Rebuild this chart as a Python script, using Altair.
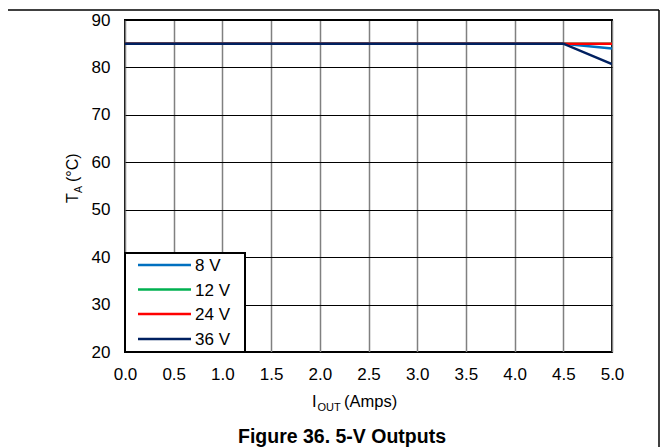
import altair as alt
import pandas as pd

# ---- data ----
iout = [0.0, 4.5, 5.0]
series = ["8 V", "12 V", "24 V", "36 V"]
ta_8v = [85, 85, 84.0]
ta_12v = [85, 85, 85]
ta_24v = [85, 85, 85]
ta_36v = [85, 85, 80.7]
colors = ["#0070C0", "#00B050", "#FF0000", "#002060"]
x_ticks = [0.0, 0.5, 1.0, 1.5, 2.0, 2.5, 3.0, 3.5, 4.0, 4.5, 5.0]
y_ticks = [20, 30, 40, 50, 60, 70, 80, 90]

FONT = "Liberation Sans"
W, H = 487, 332

values = [ta_8v, ta_12v, ta_24v, ta_36v]
color_scale = alt.Scale(domain=series, range=colors)

x_enc = alt.X(
    "iout:Q",
    scale=alt.Scale(domain=[0, 5], nice=False),
    axis=alt.Axis(
        values=x_ticks, format=".1f", title=None, tickSize=0, domain=False,
        labelFontSize=17, labelFont=FONT, labelColor="black", labelPadding=14,
        labelFlush=False, labelOverlap=False,
        grid=True, gridColor="#808080", gridWidth=1.5,
    ),
)
y_enc = alt.Y(
    "ta:Q",
    scale=alt.Scale(domain=[20, 90], nice=False),
    axis=alt.Axis(
        values=y_ticks, format="d", title=None, tickSize=0, domain=False,
        labelFontSize=17, labelFont=FONT, labelColor="black", labelPadding=15,
        labelFlush=False, labelOverlap=False,
        grid=True, gridColor="black", gridWidth=1,
    ),
)

layers = []
for name, vals in zip(series, values):
    df = pd.DataFrame({"iout": iout, "ta": vals, "series": name})
    layers.append(
        alt.Chart(df).mark_line(strokeWidth=2.5, clip=True).encode(
            x=x_enc, y=y_enc,
            color=alt.Color("series:N", scale=color_scale, legend=None),
        )
    )

# ---- legend box ----
legend_box = alt.Chart(pd.DataFrame({"a": [0]})).mark_rect(
    fill="white", stroke="black", strokeWidth=2
).encode(x=alt.value(0), x2=alt.value(120), y=alt.value(233), y2=alt.value(332))
layers.append(legend_box)

row_y = [245, 269.5, 294, 319]
for name, ry in zip(series, row_y):
    ldf = pd.DataFrame({"series": [name]})
    layers.append(
        alt.Chart(ldf).mark_rule(strokeWidth=2.5).encode(
            x=alt.value(13), x2=alt.value(66), y=alt.value(ry),
            color=alt.Color("series:N", scale=color_scale, legend=None),
        )
    )
    layers.append(
        alt.Chart(ldf).mark_text(
            align="left", baseline="middle", fontSize=17, font=FONT, color="black"
        ).encode(x=alt.value(70), y=alt.value(ry + 1), text="series:N")
    )

def txt(s, x, y, size=16, angle=0, bold=False, align="left"):
    return alt.Chart(pd.DataFrame({"t": [s]})).mark_text(
        align=align, baseline="alphabetic", fontSize=size, font=FONT,
        color="black", angle=angle, fontWeight="bold" if bold else "normal",
    ).encode(x=alt.value(x), y=alt.value(y), text="t:N")

# x-axis title: I_OUT (Amps)
layers.append(txt("I", 187, 387, size=16.5))
layers.append(txt("OUT", 192.5, 391, size=11))
layers.append(txt("(Amps)", 219, 387, size=16.5))
# y-axis title: T_A (°C), rotated
layers.append(txt("T", -47, 183, size=16, angle=270))
layers.append(txt("A", -43, 173, size=10.5, angle=270))
layers.append(txt("(°C)", -47, 162, size=16, angle=270))
# figure caption
layers.append(txt("Figure 36. 5-V Outputs", 217, 423, size=19.5, bold=True, align="center"))

# page frame lines (top and right)
frame_df = pd.DataFrame({"a": [0]})
layers.append(alt.Chart(frame_df).mark_rule(color="black", strokeWidth=1.5).encode(
    x=alt.value(-117), x2=alt.value(534), y=alt.value(-10)))
layers.append(alt.Chart(frame_df).mark_rule(color="black", strokeWidth=1.5).encode(
    x=alt.value(534), y=alt.value(-10), y2=alt.value(430)))

chart = alt.layer(*layers).properties(
    width=W, height=H,
    autosize=alt.AutoSizeParams(type="none"),
    padding={"left": 117, "top": 12, "right": 48, "bottom": 97},
    background="white",
).configure_view(stroke="black", strokeWidth=2)

chart.save("out.html", embed_options={"renderer": "svg", "actions": False})
